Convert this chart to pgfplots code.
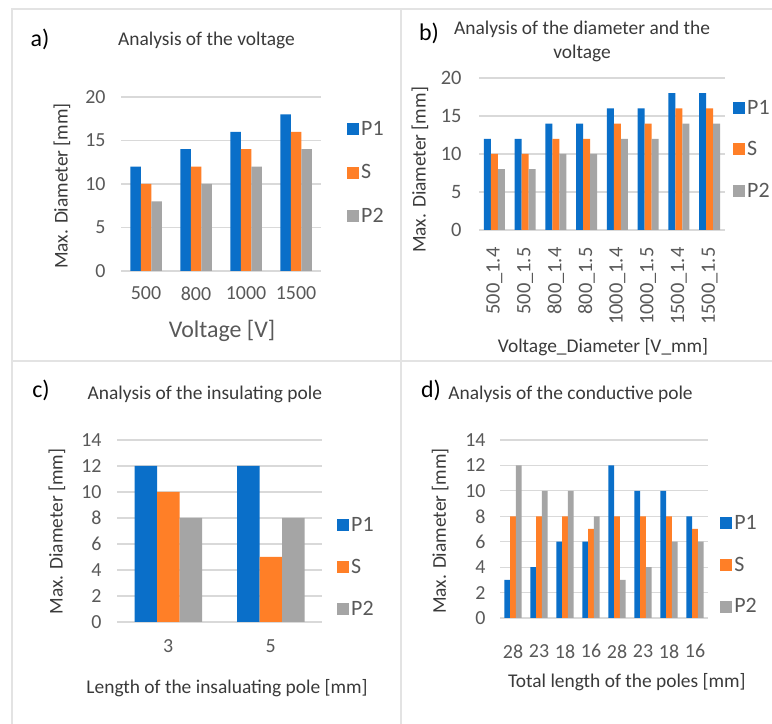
\documentclass[border=0pt]{standalone}
\usepackage{fontspec}
\setmainfont{Carlito}
\usepackage{pgfplots}
\usepackage{pgfplotstable}
\pgfplotsset{compat=1.18}

\definecolor{cP1}{HTML}{0A6FC9}
\definecolor{cS}{HTML}{FF7F27}
\definecolor{cP2}{HTML}{A5A5A5}
\definecolor{gridc}{HTML}{D9D9D9}
\definecolor{bordc}{HTML}{E3E3E3}
\definecolor{tickc}{HTML}{595959}
\definecolor{labc}{HTML}{3A3A3A}

% a) voltage
\pgfplotstableread{
x P1 S P2
0 12 10 8
1 14 12 10
2 16 14 12
3 18 16 14
}\dataA
% b) diameter and voltage
\pgfplotstableread{
x P1 S P2
0 12 10 8
1 12 10 8
2 14 12 10
3 14 12 10
4 16 14 12
5 16 14 12
6 18 16 14
7 18 16 14
}\dataB
% c) insulating pole
\pgfplotstableread{
x P1 S P2
0 12 10 8
1 12 5 8
}\dataC
% d) conductive pole
\pgfplotstableread{
x P1 S P2
0 3 8 12
1 4 8 10
2 6 8 10
3 6 7 8
4 12 8 3
5 10 8 4
6 10 8 6
7 8 7 6
}\dataD

\pgfplotsset{
  panel/.style={
    scale only axis, anchor=south west,
    ybar=0pt, ymin=0,
    axis line style={draw=none}, major tick length=0pt,
    ymajorgrids, major grid style={gridc, line width=1.2bp},
    /pgf/number format/assume math mode=true,
    tick label style={font=\fontsize{20}{22}\selectfont, text=tickc},
    label style={font=\fontsize{19.5}{22}\selectfont, text=labc},
    ylabel style={anchor=center},
    xlabel style={anchor=center},
    title style={font=\fontsize{19.5}{24}\selectfont, text=labc, anchor=center},
    legend style={draw=none, fill=none, inner sep=0pt, row sep=24bp,
      font=\fontsize{22}{24}\selectfont, text=tickc, anchor=west,
      nodes={inner sep=2bp}},
    legend cell align=left,
    legend image code/.code={\fill[##1,draw=none] (0bp,-6bp) rectangle (12bp,6bp);},
  },
}

\begin{document}
\begin{tikzpicture}[x=1bp,y=1bp]
\path[use as bounding box, clip] (0,0) rectangle (772,724);
\fill[white] (0,0) rectangle (772,724);

% panel frames
\draw[bordc, line width=1.5bp] (12,0) -- (12,715) -- (772,715);
\draw[bordc, line width=1.5bp] (401,0) -- (401,715);
\draw[bordc, line width=1.5bp] (12,363) -- (772,363);

% panel letters
\node[font=\fontsize{24}{26}\selectfont] at (40,685) {a)};
\node[font=\fontsize{24}{26}\selectfont] at (429,691) {b)};
\node[font=\fontsize{24}{26}\selectfont] at (41,334) {c)};
\node[font=\fontsize{24}{26}\selectfont] at (431,334) {d)};

% a)
\begin{axis}[panel, at={(121bp,453bp)}, width=200bp, height=174bp,
  bar width=10.5bp, xmin=-0.5, xmax=3.5, ymax=20, ytick={0,5,...,20},
  xtick={0,1,2,3}, xticklabels={500,800,1000,1500},
  yticklabel shift=12bp, xticklabel shift=12.5bp,
  title={Analysis of the voltage},
  title style={at={(axis description cs:0.4275,1.293)}},
  xlabel={Voltage [V]},
  xlabel style={at={(axis description cs:0.505,-0.345)}, font=\fontsize{24}{26}\selectfont, text=tickc},
  ylabel={Max. Diameter [mm]},
  ylabel style={at={(axis description cs:-0.295,0.4885)}},
  legend style={at={(axis description cs:1.13,0.565)}},
]
\addplot[fill=cP1, draw=none] table[x=x, y=P1] {\dataA};
\addplot[fill=cS, draw=none] table[x=x, y=S] {\dataA};
\addplot[fill=cP2, draw=none] table[x=x, y=P2] {\dataA};
\legend{P1,S,P2}
\end{axis}

% b)
\begin{axis}[panel, at={(479bp,494bp)}, width=246bp, height=152bp,
  bar width=7bp, xmin=-0.5, xmax=7.5, ymax=20, ytick={0,5,...,20},
  xtick={0,...,7},
  xticklabels={500\_1.4,500\_1.5,800\_1.4,800\_1.5,1000\_1.4,1000\_1.5,1500\_1.4,1500\_1.5},
  tick label style={font=\fontsize{20.5}{22}\selectfont},
  xticklabel style={rotate=90, anchor=east},
  yticklabel shift=14bp, xticklabel shift=14bp,
  title={Analysis of the diameter and the\\voltage},
  title style={align=center, at={(axis description cs:0.419,1.201)}},
  xlabel={Voltage\_Diameter [V\_mm]},
  xlabel style={at={(axis description cs:0.504,-0.77)}},
  ylabel={Max. Diameter [mm]},
  ylabel style={at={(axis description cs:-0.24,0.395)}},
  legend style={at={(axis description cs:1.0325,0.53)}, row sep=22bp},
]
\addplot[fill=cP1, draw=none] table[x=x, y=P1] {\dataB};
\addplot[fill=cS, draw=none] table[x=x, y=S] {\dataB};
\addplot[fill=cP2, draw=none] table[x=x, y=P2] {\dataB};
\legend{P1,S,P2}
\end{axis}

% c)
\begin{axis}[panel, at={(117bp,102bp)}, width=205bp, height=182bp,
  bar width=22.5bp, xmin=-0.5, xmax=1.5, ymax=14, ytick={0,2,...,14},
  xtick={0,1}, xticklabels={3,5},
  yticklabel shift=12bp, xticklabel shift=14.5bp,
  title={Analysis of the insulating pole},
  title style={at={(axis description cs:0.429,1.22)}},
  xlabel={Length of the insaluating pole [mm]},
  xlabel style={at={(axis description cs:0.537,-0.363)}},
  ylabel={Max. Diameter [mm]},
  ylabel style={at={(axis description cs:-0.293,0.497)}},
  legend style={at={(axis description cs:1.073,0.302)}, row sep=22bp},
]
\addplot[fill=cP1, draw=none] table[x=x, y=P1] {\dataC};
\addplot[fill=cS, draw=none] table[x=x, y=S] {\dataC};
\addplot[fill=cP2, draw=none] table[x=x, y=P2] {\dataC};
\legend{P1,S,P2}
\end{axis}

% d)
\begin{axis}[panel, at={(500bp,106bp)}, width=208bp, height=178bp,
  bar width=5.7bp, xmin=-0.5, xmax=7.5, ymax=14, ytick={0,2,...,14},
  xtick={0,...,7}, xticklabels={28,23,18,16,28,23,18,16},
  yticklabel shift=11bp, xticklabel shift=23bp,
  title={Analysis of the conductive pole},
  title style={at={(axis description cs:0.339,1.225)}},
  xlabel={Total length of the poles [mm]},
  xlabel style={at={(axis description cs:0.61,-0.36)}},
  ylabel={Max. Diameter [mm]},
  ylabel style={at={(axis description cs:-0.288,0.489)}},
  legend style={at={(axis description cs:1.058,0.298)}, row sep=22bp},
]
\addplot[fill=cP1, draw=none] table[x=x, y=P1] {\dataD};
\addplot[fill=cS, draw=none] table[x=x, y=S] {\dataD};
\addplot[fill=cP2, draw=none] table[x=x, y=P2] {\dataD};
\legend{P1,S,P2}
\end{axis}
\end{tikzpicture}
\end{document}
